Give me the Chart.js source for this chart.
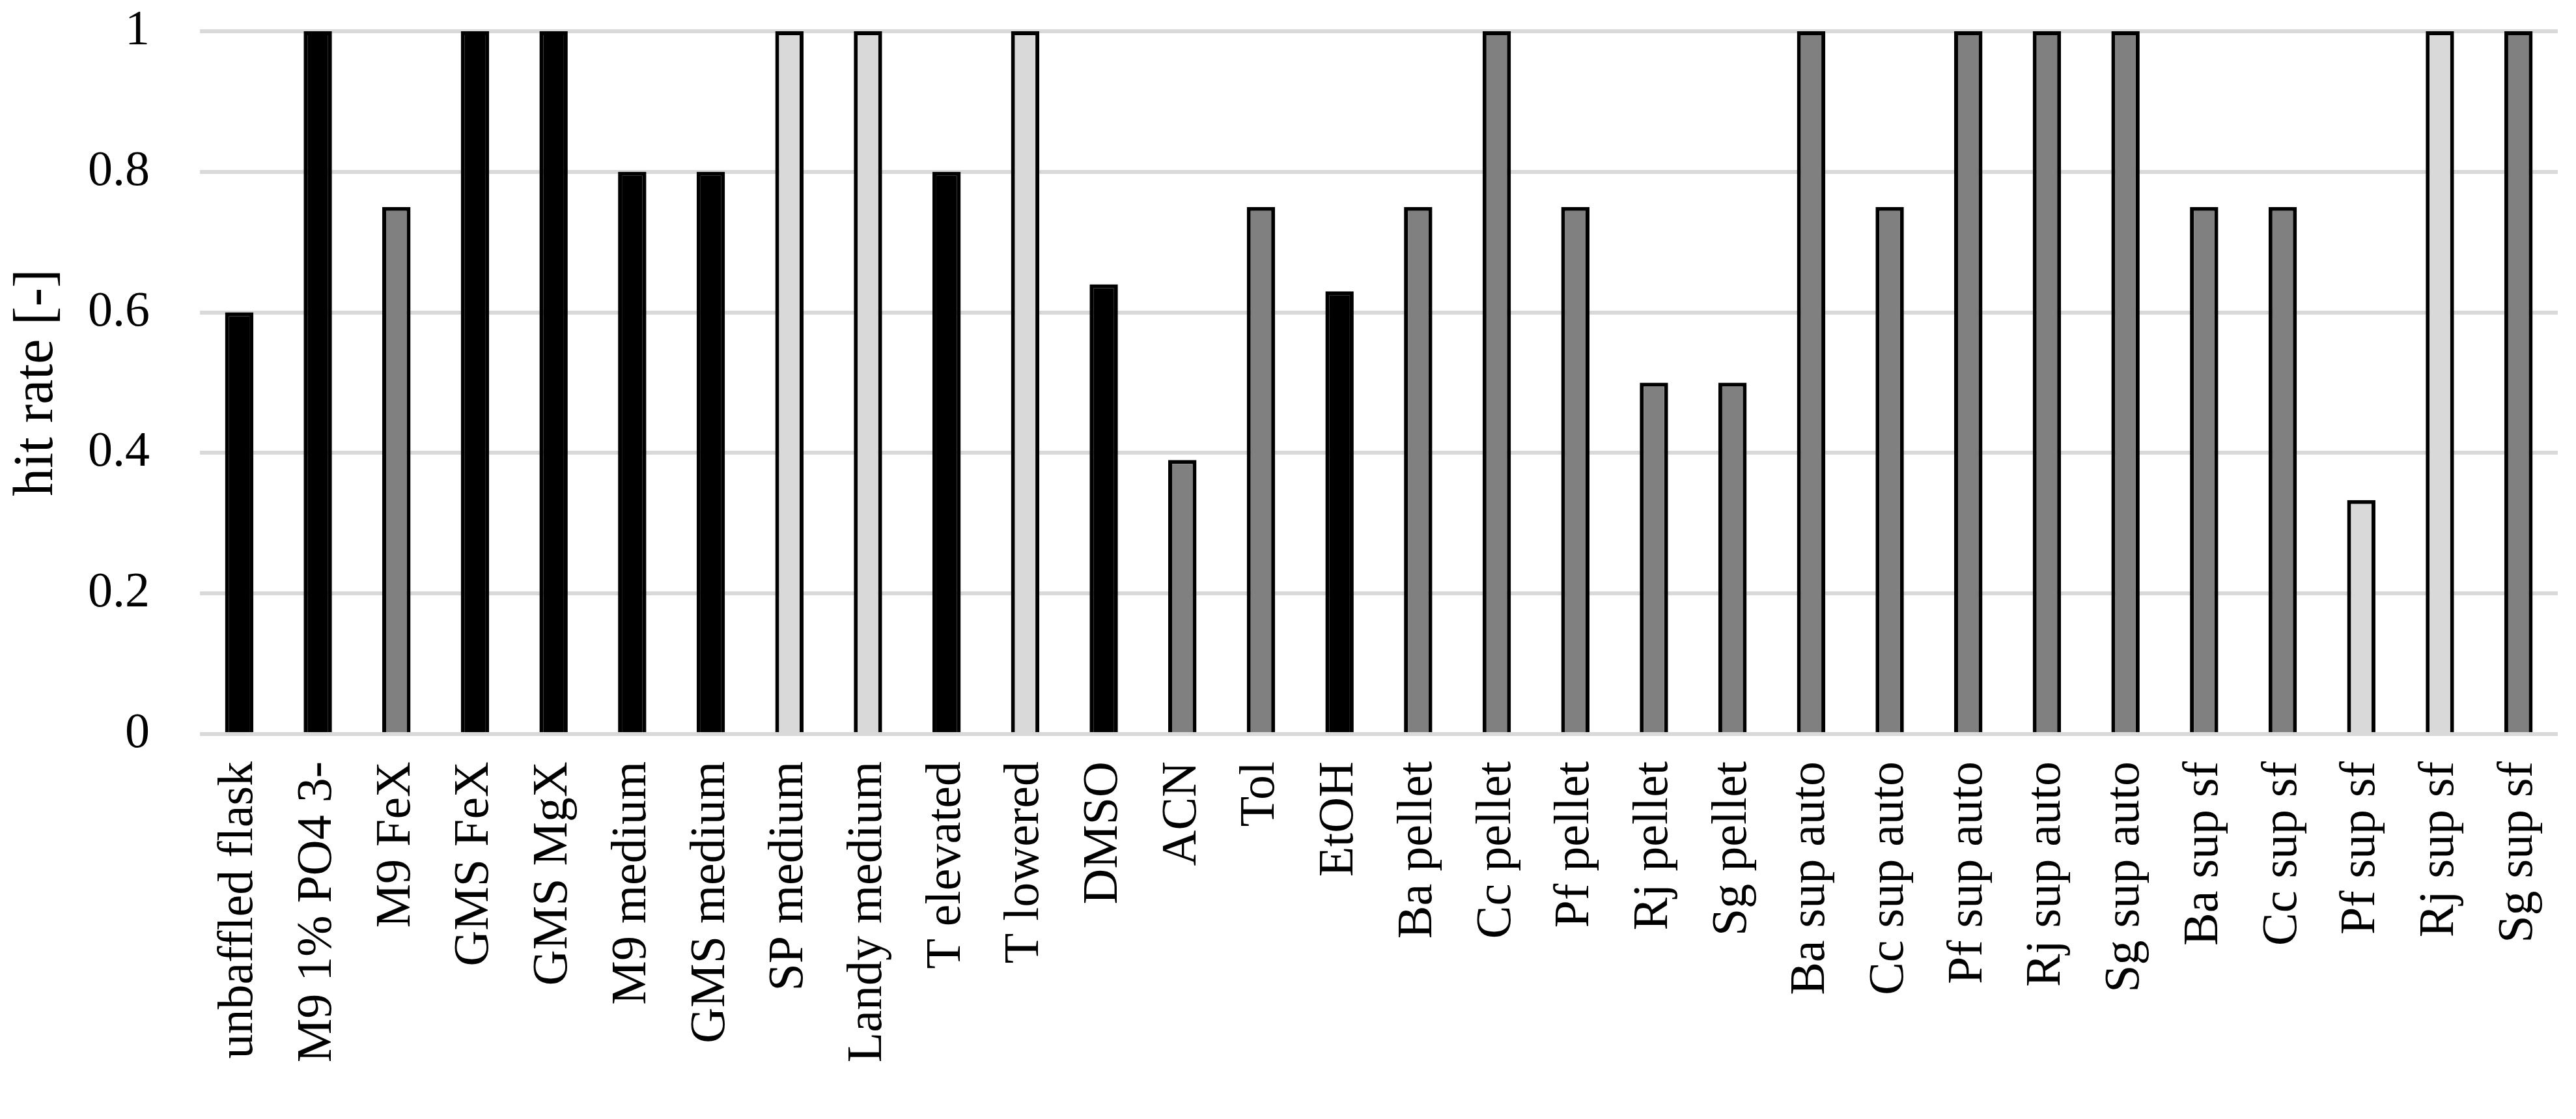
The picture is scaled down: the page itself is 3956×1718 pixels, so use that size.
<!DOCTYPE html>
<html>
<head>
<meta charset="utf-8">
<script src="https://cdn.jsdelivr.net/npm/chart.js@4.4.1/dist/chart.umd.min.js"></script>
<style>
  html, body { margin: 0; padding: 0; background: #fff; }
  #wrap { width: 3956px; height: 1718px; }
</style>
</head>
<body>
<div id="wrap"><canvas id="chart-area"></canvas></div>
<script>
var categories = [
    "unbaffled flask", "M9 1% PO4 3-", "M9 FeX", "GMS FeX", "GMS MgX",
    "M9 medium", "GMS medium", "SP medium", "Landy medium", "T elevated",
    "T lowered", "DMSO", "ACN", "Tol", "EtOH",
    "Ba pellet", "Cc pellet", "Pf pellet", "Rj pellet", "Sg pellet",
    "Ba sup auto", "Cc sup auto", "Pf sup auto", "Rj sup auto", "Sg sup auto",
    "Ba sup sf", "Cc sup sf", "Pf sup sf", "Rj sup sf", "Sg sup sf"
];
var hitRate = [
    0.6, 1, 0.75, 1, 1,
    0.8, 0.8, 1, 1, 0.8,
    1, 0.64, 0.39, 0.75, 0.63,
    0.75, 1, 0.75, 0.5, 0.5,
    1, 0.75, 1, 1, 1,
    0.75, 0.75, 0.333, 1, 1
];
// shade group of each bar: 0 = black, 1 = dark grey, 2 = light grey
var shadeGroup = [
    0, 0, 1, 0, 0,
    0, 0, 2, 2, 0,
    2, 0, 1, 1, 0,
    1, 1, 1, 1, 1,
    1, 1, 1, 1, 1,
    1, 1, 2, 2, 1
];
var yTicks = [0, 0.2, 0.4, 0.6, 0.8, 1];

var palette = ["#000000", "#808080", "#d9d9d9"];

Chart.defaults.font.family = "'Liberation Serif', serif";
Chart.defaults.font.size = 76;
Chart.defaults.color = "#000";

var config = {
    type: 'bar',
    data: {
        labels: categories,
        datasets: [{
            label: 'hit rate',
            data: hitRate,
            backgroundColor: shadeGroup.map(function (g) { return palette[g]; }),
            borderColor: "#000",
            borderWidth: 6,
            barPercentage: 0.36,
            categoryPercentage: 1
        }]
    },
    options: {
        responsive: true,
        maintainAspectRatio: false,
        devicePixelRatio: 1,
        animation: false,
        layout: { padding: { top: 48, right: 28, left: 0, bottom: 0 } },
        plugins: {
            legend: { display: false },
            tooltip: { enabled: false }
        },
        scales: {
            x: {
                grid: { display: false, drawTicks: false },
                border: { display: false },
                ticks: {
                    autoSkip: false,
                    maxRotation: 90,
                    minRotation: 90,
                    padding: 42
                },
                afterFit: function (scale) {
                    scale.height = 591;
                    scale.paddingLeft = 0;
                    scale.paddingRight = 0;
                }
            },
            y: {
                min: 0,
                max: 1,
                afterBuildTicks: function (scale) {
                    scale.ticks = yTicks.map(function (v) { return { value: v }; });
                },
                grid: { color: "#d9d9d9", lineWidth: 6, drawTicks: false },
                border: { display: false },
                ticks: {
                    padding: 77,
                    callback: function (v) { return String(v); }
                },
                title: {
                    display: true,
                    text: 'hit rate [-]',
                    font: { size: 86 },
                    padding: { top: 6, bottom: 0 }
                },
                afterFit: function (scale) {
                    scale.width = 307;
                    scale.paddingTop = 0;
                    scale.paddingBottom = 0;
                }
            }
        }
    }
};

var ctx = document.getElementById("chart-area").getContext("2d");
var myBar = new Chart(ctx, config);
</script>
</body>
</html>
